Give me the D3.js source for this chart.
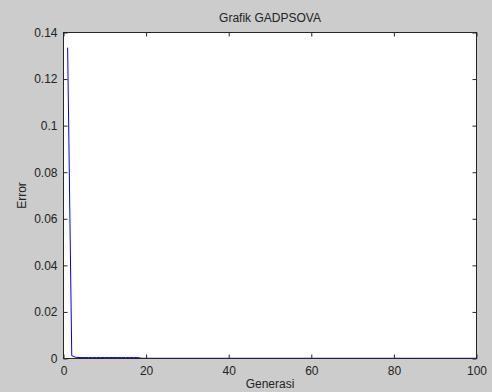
<!DOCTYPE html>
<html>
<head>
<meta charset="utf-8">
<script src="https://cdn.jsdelivr.net/npm/d3@7"></script>
<style>
  html, body { margin: 0; padding: 0; background: #cccccc; }
  svg { display: block; }
  text { font-family: "Liberation Sans", Arial, sans-serif; fill: #222; }
</style>
</head>
<body>
<svg id="chart" width="492" height="392"></svg>
<script>
// Best error per generation of the GADPSOVA run
const generations = [
  1, 2, 3, 4, 5, 6, 7, 8, 9, 10, 11, 12, 13, 14, 15, 16, 17, 18, 19, 20,
  21, 22, 23, 24, 25, 26, 27, 28, 29, 30, 31, 32, 33, 34, 35, 36, 37, 38, 39, 40,
  41, 42, 43, 44, 45, 46, 47, 48, 49, 50, 51, 52, 53, 54, 55, 56, 57, 58, 59, 60,
  61, 62, 63, 64, 65, 66, 67, 68, 69, 70, 71, 72, 73, 74, 75, 76, 77, 78, 79, 80,
  81, 82, 83, 84, 85, 86, 87, 88, 89, 90, 91, 92, 93, 94, 95, 96, 97, 98, 99, 100
];
const errors = [
  0.1335, 0.0012, 0.0005, 0.0004, 0.0004, 0.0004, 0.0004, 0.0004, 0.0004, 0.0004,
  0.0004, 0.0004, 0.0004, 0.0004, 0.0004, 0.0004, 0.0004, 0.0004, 0.0001, 0.0001,
  0.0001, 0.0001, 0.0001, 0.0001, 0.0001, 0.0001, 0.0001, 0.0001, 0.0001, 0.0001,
  0.0001, 0.0001, 0.0001, 0.0001, 0.0001, 0.0001, 0.0001, 0.0001, 0.0001, 0.0001,
  0.0001, 0.0001, 0.0001, 0.0001, 0.0001, 0.0001, 0.0001, 0.0001, 0.0001, 0.0001,
  0.0001, 0.0001, 0.0001, 0.0001, 0.0001, 0.0001, 0.0001, 0.0001, 0.0001, 0.0001,
  0.0001, 0.0001, 0.0001, 0.0001, 0.0001, 0.0001, 0.0001, 0.0001, 0.0001, 0.0001,
  0.0001, 0.0001, 0.0001, 0.0001, 0.0001, 0.0001, 0.0001, 0.0001, 0.0001, 0.0001,
  0.0001, 0.0001, 0.0001, 0.0001, 0.0001, 0.0001, 0.0001, 0.0001, 0.0001, 0.0001,
  0.0001, 0.0001, 0.0001, 0.0001, 0.0001, 0.0001, 0.0001, 0.0001, 0.0001, 0.0001
];
const xTicks = [0, 20, 40, 60, 80, 100];
const yTicks = [0, 0.02, 0.04, 0.06, 0.08, 0.1, 0.12, 0.14];
const yTickLabels = ["0", "0.02", "0.04", "0.06", "0.08", "0.1", "0.12", "0.14"];
const titleText = "Grafik GADPSOVA";
const xLabel = "Generasi";
const yLabel = "Error";

const svg = d3.select("#chart");
const plotLeft = 63.5, plotRight = 476.5, plotTop = 32.5, plotBottom = 358.5;

const x = d3.scaleLinear().domain([0, 100]).range([plotLeft, plotRight]);
const y = d3.scaleLinear().domain([0, 0.14]).range([plotBottom, plotTop]);

// plot area
svg.append("rect")
  .attr("x", plotLeft).attr("y", plotTop)
  .attr("width", plotRight - plotLeft).attr("height", plotBottom - plotTop)
  .attr("fill", "#ffffff");

// series
const line = d3.line()
  .x((d, i) => x(generations[i]))
  .y(d => y(d));
svg.append("path")
  .datum(errors)
  .attr("fill", "none")
  .attr("stroke", "#0000ff")
  .attr("stroke-width", 1)
  .attr("d", line);

// frame
svg.append("rect")
  .attr("x", plotLeft).attr("y", plotTop)
  .attr("width", plotRight - plotLeft).attr("height", plotBottom - plotTop)
  .attr("fill", "none")
  .attr("stroke", "#262626")
  .attr("stroke-width", 1);

const tickLen = 4;
const fontSize = 12;

// bottom axis labels and inward ticks on both horizontal edges
const gx = svg.append("g").attr("transform", `translate(0,${plotBottom})`)
  .call(d3.axisBottom(x).tickValues(xTicks).tickFormat(d3.format("d")).tickSizeInner(-tickLen).tickSizeOuter(0).tickPadding(8));
gx.select(".domain").remove();
gx.selectAll("line").attr("stroke", "#262626");
gx.selectAll("text").attr("font-size", fontSize).attr("font-family", "Liberation Sans, Arial, sans-serif").attr("fill", "#222");

const gxTop = svg.append("g").attr("transform", `translate(0,${plotTop})`)
  .call(d3.axisTop(x).tickValues(xTicks).tickFormat("").tickSizeInner(-tickLen).tickSizeOuter(0));
gxTop.select(".domain").remove();
gxTop.selectAll("line").attr("stroke", "#262626");

// left axis labels and inward ticks on both vertical edges
const gy = svg.append("g").attr("transform", `translate(${plotLeft},0)`)
  .call(d3.axisLeft(y).tickValues(yTicks).tickFormat((d, i) => yTickLabels[i]).tickSizeInner(-tickLen).tickSizeOuter(0).tickPadding(6));
gy.select(".domain").remove();
gy.selectAll("line").attr("stroke", "#262626");
gy.selectAll("text").attr("font-size", fontSize).attr("font-family", "Liberation Sans, Arial, sans-serif").attr("fill", "#222");

const gyRight = svg.append("g").attr("transform", `translate(${plotRight},0)`)
  .call(d3.axisRight(y).tickValues(yTicks).tickFormat("").tickSizeInner(-tickLen).tickSizeOuter(0));
gyRight.select(".domain").remove();
gyRight.selectAll("line").attr("stroke", "#262626");

// titles
svg.append("text")
  .attr("x", (plotLeft + plotRight) / 2).attr("y", 22)
  .attr("text-anchor", "middle")
  .attr("font-size", 12)
  .text(titleText);

svg.append("text")
  .attr("x", (plotLeft + plotRight) / 2).attr("y", 388)
  .attr("text-anchor", "middle")
  .attr("font-size", 12)
  .text(xLabel);

svg.append("text")
  .attr("transform", `translate(26,${(plotTop + plotBottom) / 2}) rotate(-90)`)
  .attr("text-anchor", "middle")
  .attr("font-size", 12)
  .text(yLabel);
</script>
</body>
</html>
